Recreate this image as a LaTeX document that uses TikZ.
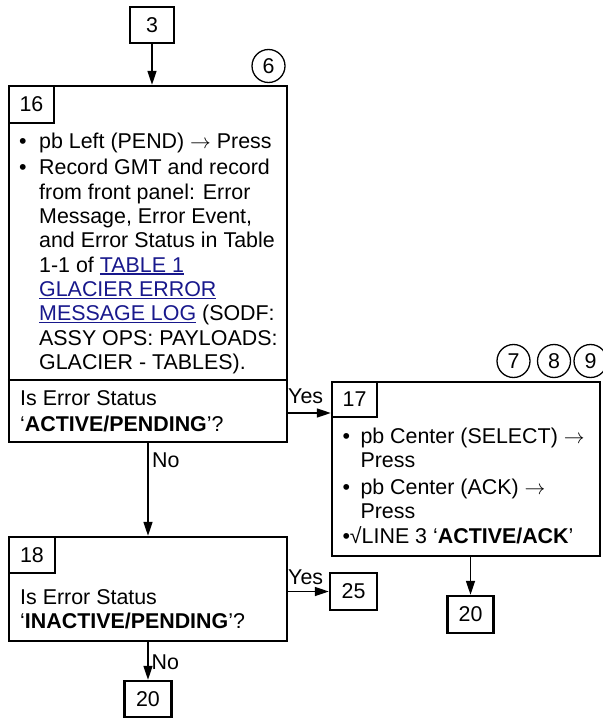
\documentclass[tikz,border=0pt]{standalone}
\usepackage{fontspec}
\setmainfont{Liberation Sans}
\usetikzlibrary{arrows.meta}
\definecolor{linkblue}{RGB}{24,24,140}
\newsavebox\lnkbox
\newcommand\lnk[1]{\sbox\lnkbox{\color{linkblue}#1}{\color{linkblue}\rlap{\rule[-2.6pt]{\wd\lnkbox}{1.5pt}}}\usebox\lnkbox}
\newcommand\bul[1]{\makebox[#1][l]{•}}
\newcommand\arr{$\rightarrow$}
\tikzset{
  box/.style={draw, line width=2.4pt, inner sep=0pt},
  cell/.style={draw, line width=1.8pt, inner sep=0pt, outer sep=0pt},
  circ/.style={draw, circle, line width=1.3pt, minimum size=33pt, inner sep=0pt},
  conn/.style={line width=1.6pt, -{Triangle[length=14pt,width=9pt]}},
  txt/.style={inner sep=0pt, anchor=base west},
}
\begin{document}
\begin{tikzpicture}[x=1pt,y=-1pt,font=\fontsize{21.4}{24.3}\selectfont]
\useasboundingbox (0,0) rectangle (602,719);

% boxes
\node[box, minimum width=44pt, minimum height=36pt] (b3) at (152,25) {3};
\node[box, minimum width=278pt, minimum height=356pt] (b16) at (148,264) {};
\node[cell, minimum width=45pt, minimum height=37pt] (c16) at (31.5,104.5) {16};
\draw[line width=2.4pt] (b16.west |- 0,380) -- (b16.east |- 0,380);
\node[circ] (o6) at (268.5,66) {6};

\node[box, minimum width=278pt, minimum height=104pt] (b18) at (148,589) {};
\node[cell, minimum width=46pt, minimum height=36pt] (c18) at (32,555) {18};

\node[box, minimum width=268pt, minimum height=174pt] (b17) at (466,469) {};
\node[cell, minimum width=45pt, minimum height=35pt] (c17) at (354.5,399.5) {17};
\node[circ] (o7) at (513.5,361) {7};
\node[circ] (o8) at (554,361) {8};
\node[circ] (o9) at (590.5,361) {9};

\node[box, minimum width=47pt, minimum height=37pt] (b25) at (353.5,591.5) {25};
\node[box, minimum width=47pt, minimum height=36pt] (b20a) at (148,699) {20};
\node[box, minimum width=46pt, minimum height=37pt] (b20b) at (470.5,614.5) {20};

% text of 16
\node[txt] (t1) at (19,149) {\bul{20pt}pb Left (PEND) \arr{} Press};
\node[txt] (t2) at (19,175) {\bul{20pt}Record GMT and record};
\node[txt] (t3) at (39,199.3) {from front panel: Error};
\node[txt] (t4) at (39,223.6) {Message, Error Event,};
\node[txt] (t5) at (39,247.9) {and Error Status in Table};
\node[txt] (t6) at (39,272.2) {1-1 of \lnk{TABLE 1}};
\node[txt] (t7) at (39,296.5) {\lnk{GLACIER ERROR}};
\node[txt] (t8) at (39,320.8) {\lnk{MESSAGE LOG} (SODF:};
\node[txt] (t9) at (39,345.1) {ASSY OPS: PAYLOADS:};
\node[txt] (t10) at (39,369.4) {GLACIER - TABLES).};
\node[txt] (q1) at (20,405.5) {Is Error Status};
\node[txt] (q2) at (20,431) {‘\textbf{ACTIVE/PENDING}’?};

% text of 18
\node[txt] (r1) at (20,604) {Is Error Status};
\node[txt] (r2) at (20,628) {‘\textbf{INACTIVE/PENDING}’?};

% text of 17
\node[txt] (s1) at (342.3,443.5) {\bul{18pt}pb Center (SELECT) \arr};
\node[txt] (s2) at (360.3,467) {Press};
\node[txt] (s3) at (342.3,494.5) {\bul{18pt}pb Center (ACK) \arr};
\node[txt] (s4) at (360.3,518) {Press};
\node[txt] (s5) at (342.3,543) {•√LINE 3 ‘\textbf{ACTIVE/ACK}’};

% connectors
\draw[conn] (b3.south) -- (b3.south |- b16.north);
\draw[conn] (b16.south) -- (b18.north);
\draw[conn] (b16.east |- 0,413) -- (b17.west |- 0,413);
\draw[conn] (b18.east |- b25.west) -- (b25.west);
\draw[conn] (b18.south) -- (b20a.north);
\draw[conn] (b20b.north |- b17.south) -- (b20b.north);

% labels
\node[txt] (yes1) at (288,403) {Yes};
\node[txt] (yes2) at (288,584) {Yes};
\node[txt] (no1) at (152,467.5) {No};
\node[txt] (no2) at (151.5,669.5) {No};
\end{tikzpicture}
\end{document}
